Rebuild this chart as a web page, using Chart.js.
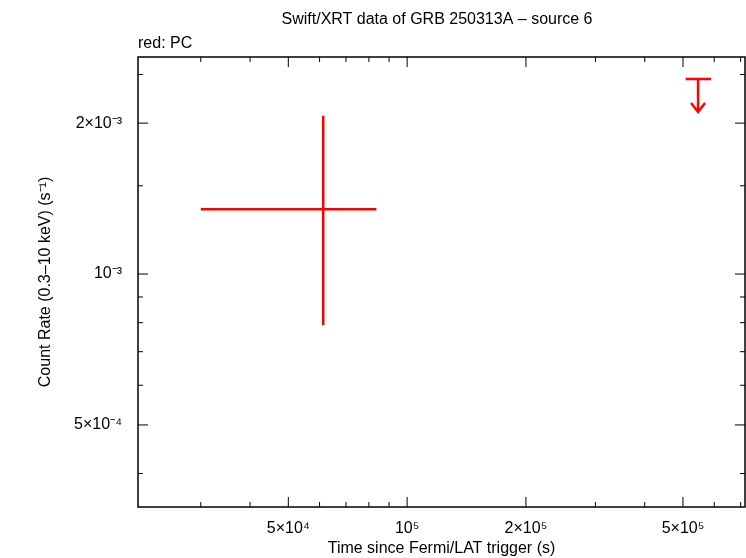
<!DOCTYPE html>
<html><head><meta charset="utf-8">
<script src="https://cdn.jsdelivr.net/npm/chart.js@4"></script>
<style>body{margin:0;background:#fff}#wrap{width:746px;height:558px}</style>
</head><body><div id="wrap"><canvas id="c"></canvas></div>
<script>
// detection: time, time errors, rate, rate errors
const detT = [61300];
const detTLo = [30000];
const detTHi = [83600];
const detRate = [1.346e-3];
const detRateLo = [7.91e-4];
const detRateHi = [2.07e-3];
// upper limit
const ulT = [546000];
const ulTLo = [508000];
const ulTHi = [589000];
const ulRate = [2.45e-3];

const xMajor = {50000: '5×10⁴', 100000: '10⁵', 200000: '2×10⁵', 500000: '5×10⁵'};
const yMajor = {0.0005: '5×10⁻⁴', 0.001: '10⁻³', 0.002: '2×10⁻³'};
const xTicks = [30000, 40000, 50000, 60000, 70000, 80000, 90000, 100000, 200000, 300000, 400000, 500000, 600000, 700000];
const yTicks = [0.0004, 0.0005, 0.0006, 0.0007, 0.0008, 0.0009, 0.001, 0.0015, 0.002, 0.0025];

const font = {family: 'Liberation Sans, Arial, sans-serif', size: 16};

const errPlugin = {
  id: 'err',
  afterDatasetsDraw(chart) {
    const ctx = chart.ctx, x = chart.scales.x, y = chart.scales.y, a = chart.chartArea;
    ctx.save();
    // frame and inward ticks
    ctx.strokeStyle = '#000'; ctx.lineWidth = 1.5;
    ctx.strokeRect(a.left, a.top, a.right - a.left, a.bottom - a.top);
    ctx.lineWidth = 1;
    xTicks.forEach(v => {
      const p = x.getPixelForValue(v), l = xMajor[v] ? 10 : 5;
      ctx.beginPath(); ctx.moveTo(p, a.bottom); ctx.lineTo(p, a.bottom - l);
      ctx.moveTo(p, a.top); ctx.lineTo(p, a.top + l); ctx.stroke();
    });
    yTicks.forEach(v => {
      const p = y.getPixelForValue(v), l = yMajor[v] ? 10 : 5;
      ctx.beginPath(); ctx.moveTo(a.left, p); ctx.lineTo(a.left + l, p);
      ctx.moveTo(a.right, p); ctx.lineTo(a.right - l, p); ctx.stroke();
    });
    // error bars
    ctx.strokeStyle = '#f00'; ctx.lineWidth = 2.5;
    detT.forEach((t, i) => {
      const px = x.getPixelForValue(t), py = y.getPixelForValue(detRate[i]);
      ctx.beginPath();
      ctx.moveTo(x.getPixelForValue(detTLo[i]), py); ctx.lineTo(x.getPixelForValue(detTHi[i]), py);
      ctx.moveTo(px, y.getPixelForValue(detRateLo[i])); ctx.lineTo(px, y.getPixelForValue(detRateHi[i]));
      ctx.stroke();
    });
    ulT.forEach((t, i) => {
      const px = x.getPixelForValue(t), py = y.getPixelForValue(ulRate[i]);
      ctx.beginPath();
      ctx.moveTo(x.getPixelForValue(ulTLo[i]), py); ctx.lineTo(x.getPixelForValue(ulTHi[i]), py);
      ctx.moveTo(px, py); ctx.lineTo(px, py + 33);
      ctx.moveTo(px - 7, py + 24); ctx.lineTo(px, py + 33); ctx.lineTo(px + 7, py + 24);
      ctx.stroke();
    });
    // titles
    ctx.fillStyle = '#000'; ctx.font = '16px Liberation Sans, Arial, sans-serif';
    ctx.textAlign = 'center'; ctx.textBaseline = 'middle';
    ctx.fillText('Swift/XRT data of GRB 250313A – source 6', 437, 20);
    ctx.textAlign = 'left';
    ctx.fillText('red: PC', 138, 44);
    ctx.restore();
  }
};

new Chart(document.getElementById('c'), {
  type: 'scatter',
  data: {datasets: [{data: detT.map((t, i) => ({x: t, y: detRate[i]})), pointRadius: 0}]},
  options: {
    responsive: true, maintainAspectRatio: false, animation: false,
    layout: {padding: {top: 57, right: 1, left: 0, bottom: 0}},
    plugins: {legend: {display: false}, tooltip: {enabled: false}},
    scales: {
      x: {
        type: 'logarithmic', min: 20800, max: 718000, bounds: 'data',
        afterBuildTicks: s => { s.ticks = xTicks.map(v => ({value: v})); },
        afterFit: s => { s.height = 51; },
        grid: {display: false}, border: {display: false},
        ticks: {autoSkip: false, maxRotation: 0, color: '#000', font: font, padding: 4,
          callback: v => xMajor[v] || ''},
        title: {display: true, text: 'Time since Fermi/LAT trigger (s)', color: '#000', font: font, padding: 0}
      },
      y: {
        type: 'logarithmic', min: 3.43e-4, max: 2.71e-3, bounds: 'data',
        afterBuildTicks: s => { s.ticks = yTicks.map(v => ({value: v})); },
        afterFit: s => { s.width = 138; },
        grid: {display: false}, border: {display: false},
        ticks: {autoSkip: false, color: '#000', font: font, padding: 8,
          callback: v => yMajor[v] || ''},
        title: {display: true, text: 'Count Rate (0.3–10 keV) (s⁻¹)', color: '#000', font: font, padding: {top: 36, bottom: 0}}
      }
    }
  },
  plugins: [errPlugin]
});
</script></body></html>
